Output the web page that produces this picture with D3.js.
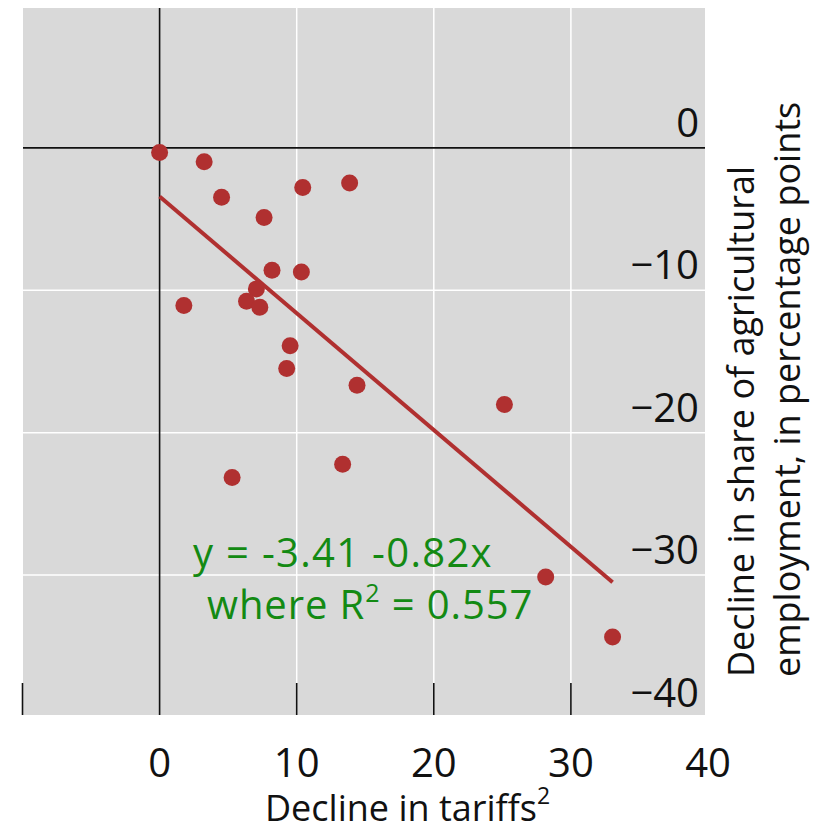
<!DOCTYPE html>
<html><head><meta charset="utf-8">
<script src="https://cdn.jsdelivr.net/npm/d3@7"></script>
<style>body{margin:0;background:#fff}svg{display:block}text{font-family:"Open Sans",sans-serif}</style>
</head><body>
<svg id="c" width="816" height="826"></svg>
<script>
const tariffDecline = [0, 3.25, 4.52, 10.44, 13.86, 7.62, 8.2, 10.34, 7.06, 6.34, 7.31, 1.77, 9.52, 9.27, 14.4, 25.15, 5.29, 13.35, 28.16, 33.04];
const agriDecline = [-0.32, -0.98, -3.46, -2.78, -2.46, -4.89, -8.59, -8.71, -9.9, -10.77, -11.19, -11.07, -13.9, -15.49, -16.66, -18.02, -23.15, -22.21, -30.13, -34.34];
const xTicks = [0, 10, 20, 30, 40];
const yTicks = [0, -10, -20, -30, -40];
const fitIntercept = -3.41, fitSlope = -0.82;
const eqLine1 = "y = -3.41 -0.82x";
const r2Value = "0.557";
const xTitle = "Decline in tariffs";
const yTitle = ["Decline in share of agricultural", "employment, in percentage points"];

const svg = d3.select("#c");
const x = d3.scaleLinear().domain([-10, 40]).range([22.5, 708]);
const y = d3.scaleLinear().domain([10, -40]).range([5.5, 717.5]);
const L = 23, R = 705, T = 8, B = 715;

svg.append("rect").attr("x", L).attr("y", T).attr("width", R - L).attr("height", B - T).attr("fill", "#d9d9d9");

svg.selectAll(".gx").data([10, 20, 30]).join("line")
  .attr("x1", d => x(d)).attr("x2", d => x(d)).attr("y1", T).attr("y2", B)
  .attr("stroke", "#fff").attr("stroke-width", 1.5);
svg.selectAll(".gy").data([-10, -20, -30]).join("line")
  .attr("y1", d => y(d)).attr("y2", d => y(d)).attr("x1", L).attr("x2", R)
  .attr("stroke", "#fff").attr("stroke-width", 1.5);

svg.append("line").attr("x1", x(0)).attr("x2", x(0)).attr("y1", T).attr("y2", B).attr("stroke", "#111").attr("stroke-width", 1.6);
svg.append("line").attr("x1", L).attr("x2", R).attr("y1", y(0)).attr("y2", y(0)).attr("stroke", "#111").attr("stroke-width", 1.6);

svg.selectAll(".tk").data([-10, 10, 20, 30]).join("line")
  .attr("x1", d => x(d)).attr("x2", d => x(d)).attr("y1", B - 32).attr("y2", B)
  .attr("stroke", "#111").attr("stroke-width", 1.6);

svg.selectAll(".xl").data(xTicks).join("text")
  .attr("x", d => x(d)).attr("y", 777).attr("text-anchor", "middle")
  .attr("font-size", 40).attr("fill", "#111").text(d => d);

svg.selectAll(".yl").data(yTicks).join("text")
  .attr("x", 699).attr("y", d => y(d) - 11).attr("text-anchor", "end")
  .attr("font-size", 40).attr("fill", "#111").text(d => d < 0 ? "\u2212" + Math.abs(d) : d);

const xMax = d3.max(tariffDecline);
svg.append("line")
  .attr("x1", x(0)).attr("y1", y(fitIntercept))
  .attr("x2", x(xMax)).attr("y2", y(fitIntercept + fitSlope * xMax))
  .attr("stroke", "#b03030").attr("stroke-width", 4);

svg.selectAll(".pt").data(tariffDecline.map((d, i) => [d, agriDecline[i]])).join("circle")
  .attr("cx", d => x(d[0])).attr("cy", d => y(d[1])).attr("r", 8.5).attr("fill", "#b03030");

svg.append("text").attr("x", 193).attr("y", 567).attr("font-size", 40).attr("letter-spacing", 1.3)
  .attr("fill", "#138a13").text(eqLine1);
const t2 = svg.append("text").attr("x", 207).attr("y", 619).attr("font-size", 40).attr("letter-spacing", 0.9).attr("fill", "#138a13");
t2.append("tspan").text("where R");
t2.append("tspan").attr("font-size", 25).attr("dy", -17).text("2");
t2.append("tspan").attr("dy", 17).text(" = " + r2Value);

const xt = svg.append("text").attr("x", 265).attr("y", 821).attr("font-size", 36).attr("fill", "#111");
xt.append("tspan").text(xTitle);
xt.append("tspan").attr("font-size", 23).attr("dy", -17).text("2");

yTitle.forEach((s, i) => {
  svg.append("text").attr("transform", `translate(${754 + i * 46},677) rotate(-90)`)
    .attr("font-size", 36).attr("fill", "#111").text(s);
});
</script>
</body></html>
